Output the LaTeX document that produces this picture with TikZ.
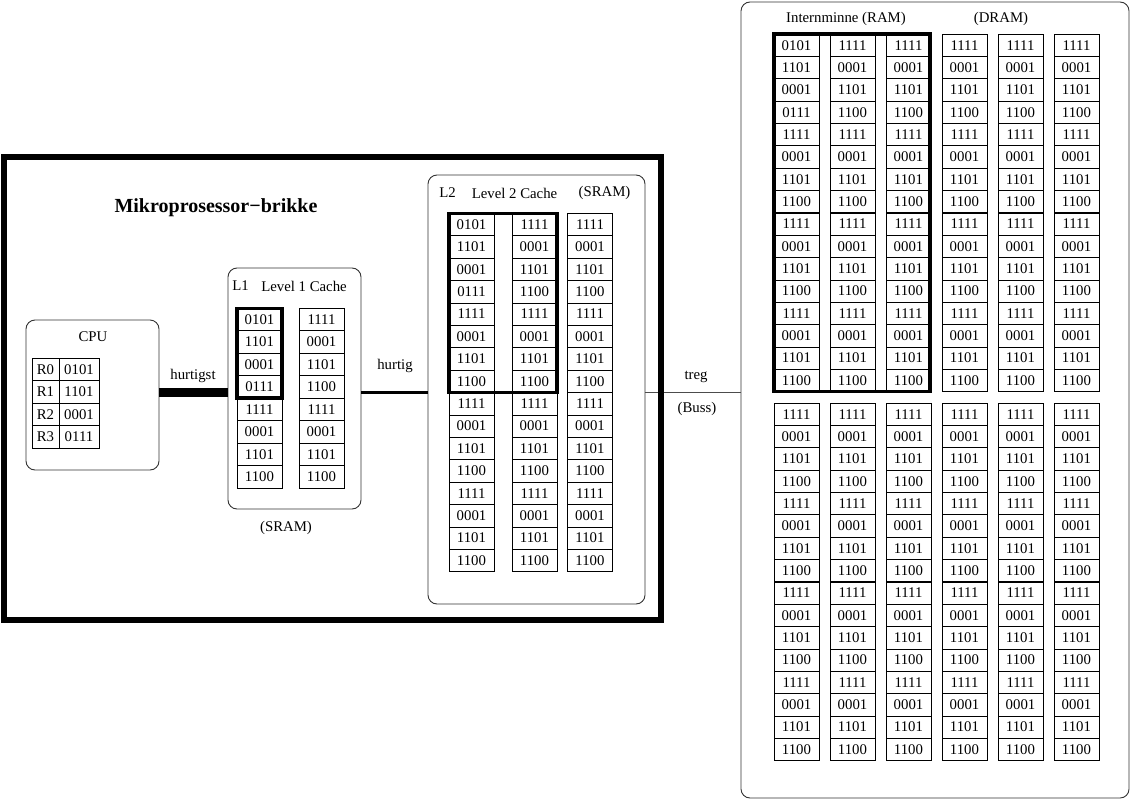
\documentclass[tikz,border=0pt]{standalone}
\usepackage{fontspec}
\setmainfont{Liberation Serif}
\begin{document}
\begin{tikzpicture}[x=1pt,y=-1pt,
  lbl/.style={inner sep=0pt, font=\fontsize{14.8}{15}\selectfont},
  cell/.style={draw, line width=0.7pt, minimum width=45pt, minimum height=22.4pt, inner sep=0pt, font=\fontsize{14.8}{15}\selectfont},
  rcell/.style={draw, line width=0.7pt, minimum height=22.5pt, inner sep=0pt, font=\fontsize{14.8}{15}\selectfont},
  rbox/.style={draw=black!80, line width=0.9pt, rounded corners=9pt, inner sep=0pt},
  hilite/.style={draw, line width=3.5pt},
]
\useasboundingbox (0,0) rectangle (1132,800);
\def\listA{0101,1101,0001,0111,1111,0001,1101,1100,1111,0001,1101,1100,1111,0001,1101,1100}
\def\listB{1111,0001,1101,1100,1111,0001,1101,1100,1111,0001,1101,1100,1111,0001,1101,1100}
\def\listAs{0101,1101,0001,0111,1111,0001,1101,1100}
\def\listBs{1111,0001,1101,1100,1111,0001,1101,1100}

% containers
\node[rbox, minimum width=133pt, minimum height=150pt] (cpu) at (92.5,395) {};
\node[rbox, minimum width=133pt, minimum height=241pt] (l1) at (294.5,388.5) {};
\node[rbox, minimum width=217pt, minimum height=429pt] (l2) at (536.5,389.5) {};
\node[rbox, minimum width=388pt, minimum height=796pt] (ram) at (935,400) {};

% connectors
\coordinate (busy) at (0,392);
\draw[line width=9pt] (cpu.east |- busy) -- (l1.west |- busy);
\draw[line width=3pt] (l1.east |- busy) -- (l2.west |- busy);
\draw[line width=1pt, black!70] (l2.east |- busy) -- (ram.west |- busy);

% chip border
\node[draw, line width=5.5pt, minimum width=657pt, minimum height=463pt, inner sep=0pt] (chip) at (332.5,388.5) {};

% labels
\node[lbl] (tcpu) at (93,337) {CPU};
\node[lbl] (thurtigst) at (193,376) {hurtigst};
\node[lbl] (tl1a) at (240.5,286) {L1};
\node[lbl] (tl1b) at (304,286) {Level 1 Cache};
\node[lbl] (tl1c) at (286,528) {(SRAM)};
\node[lbl] (thurtig) at (395,366) {hurtig};
\node[lbl] (tl2a) at (447.5,193) {L2};
\node[lbl] (tl2b) at (514.5,193) {Level 2 Cache};
\node[lbl] (tl2c) at (604.5,193) {(SRAM)};
\node[inner sep=0pt, font=\fontsize{20}{21}\selectfont\bfseries] (tchip) at (216,208) {Mikroprosessor−brikke};
\node[lbl] (ttreg) at (696,377) {treg};
\node[lbl] (tbuss) at (697,409) {(Buss)};
\node[lbl] (tram) at (846,19) {Internminne (RAM)};
\node[lbl] (tdram) at (1001,19) {(DRAM)};

% registers
\foreach \r/\v [count=\i from 0] in {R0/0101,R1/1101,R2/0001,R3/0111}{
  \node[rcell, minimum width=27pt] (reg\i) at (45.5,369.25+22.5*\i) {\r};
  \node[rcell, minimum width=40pt] (regv\i) at (79,369.25+22.5*\i) {\v};
}

% L1 cache
\foreach \v [count=\i from 0] in \listAs {
  \node[cell] (l1a\i) at (259.5,319.5+22.45*\i) {\v};
}
\foreach \v [count=\i from 0] in \listBs {
  \node[cell] (l1b\i) at (321.5,319.5+22.45*\i) {\v};
}
\draw[hilite] (237,308.3) rectangle (282,398.1);

% L2 cache
\foreach \v [count=\i from 0] in \listA {
  \node[cell] (l2a\i) at (471.5,224.5+22.4*\i) {\v};
}
\foreach \v [count=\i from 0] in \listB {
  \node[cell] (l2b\i) at (534.5,224.5+22.4*\i) {\v};
  \node[cell] (l2c\i) at (590,224.5+22.4*\i) {\v};
}
\draw[hilite] (449,213.3) rectangle (557,392.5);

% RAM
\foreach \v [count=\i from 0] in \listA {
  \node[cell] (ra1\i) at (796.5,45.2+22.35*\i) {\v};
}
\foreach \c in {2,...,6}{
  \foreach \v [count=\i from 0] in \listB {
    \node[cell] (ra\c\i) at (796.5+56*\c-56,45.2+22.35*\i) {\v};
  }
}
\foreach \c in {1,...,6}{
  \foreach \v [count=\i from 0] in \listB {
    \node[cell] (rb\c\i) at (796.5+56*\c-56,414.2+22.35*\i) {\v};
  }
}
\draw[hilite] (774,34) rectangle (930,391.6);
\end{tikzpicture}
\end{document}
